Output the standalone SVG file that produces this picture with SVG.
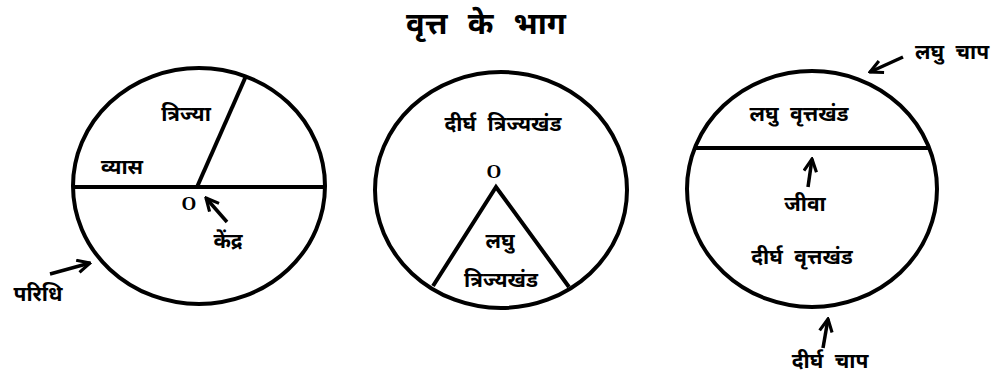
<svg xmlns="http://www.w3.org/2000/svg" width="1004" height="379" viewBox="0 0 1004 379">
<style>
.shape{fill:none;stroke:#000;stroke-width:4}
.ln{stroke:#000;stroke-width:4;fill:none}
.arr{stroke:#000;stroke-width:3.5;fill:none;marker-end:url(#ah)}
.lbl{font-family:"Noto Sans Devanagari","Noto Sans","Lohit Devanagari",sans-serif;font-weight:bold;font-size:21px;fill:#000;text-anchor:middle;word-spacing:6px}
.ttl{font-family:"Noto Sans Devanagari","Noto Sans","Lohit Devanagari",sans-serif;font-weight:bold;font-size:31px;fill:#000;text-anchor:middle;word-spacing:12px}
.o{font-family:"Liberation Serif",serif;font-weight:bold;font-size:19px;fill:#000;text-anchor:middle}
</style>
<defs>
<marker id="ah" viewBox="0 0 10 10" refX="9" refY="5" markerWidth="4.5" markerHeight="4.5" orient="auto" markerUnits="strokeWidth">
<path d="M1,1 L9,5 L1,9" fill="none" stroke="#000" stroke-width="2"/>
</marker>
</defs>
<rect width="1004" height="379" fill="#fff"/>
<text class="ttl" x="486" y="34">वृत्त के भाग</text>
<g id="circle1">
<ellipse class="shape" cx="199" cy="186" rx="126" ry="118"/>
<line class="ln" x1="73" y1="187" x2="325" y2="187"/>
<line class="ln" x1="197" y1="187" x2="246" y2="76"/>
<text class="lbl" x="186" y="121">त्रिज्या</text>
<text class="lbl" x="122" y="174">व्यास</text>
<text class="o" x="189" y="210">O</text>
<text class="lbl" x="228" y="248">केंद्र</text>
<text class="lbl" x="38" y="301">परिधि</text>
</g>
<g id="circle2">
<ellipse class="shape" cx="501" cy="190" rx="126" ry="118"/>
<polyline class="ln" points="433,286 496,187 569,287"/>
<text class="lbl" x="503" y="131">दीर्घ त्रिज्यखंड</text>
<text class="o" x="494" y="178">O</text>
<text class="lbl" x="500" y="248">लघु</text>
<text class="lbl" x="501" y="287">त्रिज्यखंड</text>
</g>
<g id="circle3">
<ellipse class="shape" cx="812" cy="189" rx="125" ry="118"/>
<line class="ln" x1="696" y1="148" x2="930" y2="148"/>
<text class="lbl" x="799" y="121">लघु वृत्तखंड</text>
<text class="lbl" x="805" y="211">जीवा</text>
<text class="lbl" x="802" y="264">दीर्घ वृत्तखंड</text>
<text class="lbl" x="952" y="59">लघु चाप</text>
<text class="lbl" x="830" y="368">दीर्घ चाप</text>
</g>
<g id="connectors">
<line class="arr" x1="227" y1="222" x2="206" y2="198"/>
<line class="arr" x1="50" y1="274" x2="90" y2="263"/>
<line class="arr" x1="903" y1="57" x2="870" y2="72"/>
<line class="arr" x1="808" y1="187" x2="812" y2="159"/>
<line class="arr" x1="823" y1="348" x2="828" y2="319"/>
</g>
</svg>
